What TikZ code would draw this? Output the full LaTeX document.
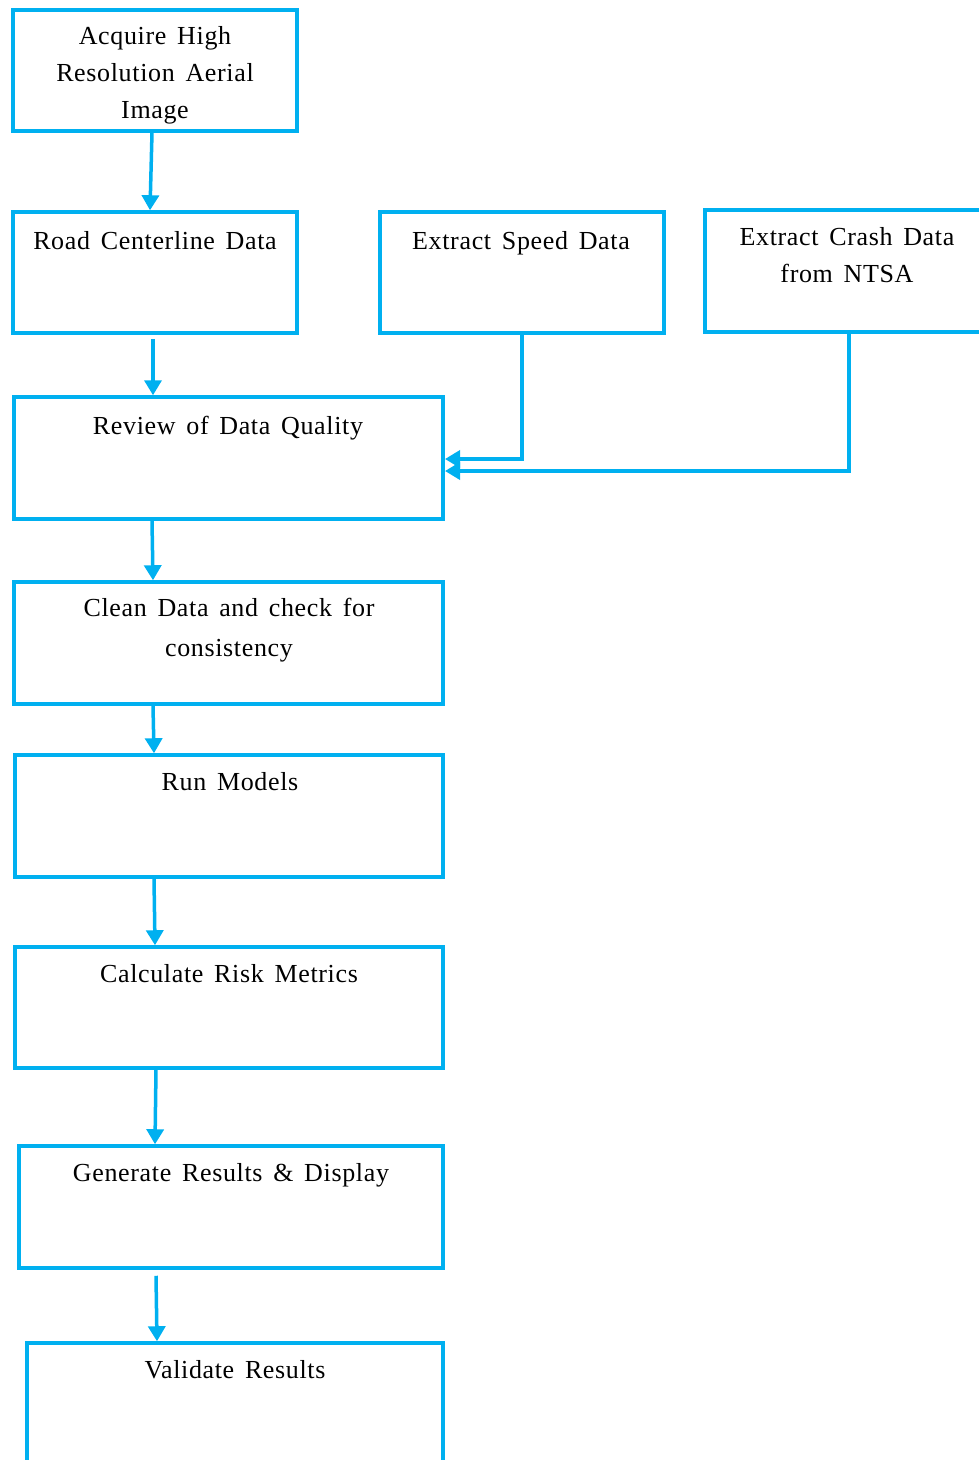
\documentclass[tikz,border=0pt]{standalone}
\usepackage{fontspec}
\setmainfont{Liberation Serif}[LetterSpace=2.5,WordSpace=1.5]
\usetikzlibrary{arrows.meta}
\definecolor{flowblue}{HTML}{00B0F0}
\begin{document}
\begin{tikzpicture}[x=1pt,y=-1pt,
  box/.style={draw=flowblue, line width=3.5pt, rectangle, inner sep=0pt},
  txt/.style={anchor=north, inner sep=0pt, align=center, font=\fontsize{26}{37}\selectfont},
  arr/.style={draw=flowblue, line width=3.5pt, -{Triangle[length=15pt,width=17pt]}}]
\useasboundingbox (0,0) rectangle (979,1460);
\clip (0,0) rectangle (979,1460);
% boxes
\node[box, minimum width=284, minimum height=121] (b1) at (155,70.5) {};
\node[box, minimum width=284, minimum height=121] (b2) at (155,272.5) {};
\node[box, minimum width=284, minimum height=121] (b3) at (522,272.5) {};
\node[box, minimum width=284, minimum height=122] (b4) at (847,271) {};
\node[box, minimum width=429, minimum height=122] (b5) at (228.5,458) {};
\node[box, minimum width=429, minimum height=122] (b6) at (228.5,643) {};
\node[box, minimum width=428, minimum height=122] (b7) at (229,816) {};
\node[box, minimum width=428, minimum height=121] (b8) at (229,1007.5) {};
\node[box, minimum width=424, minimum height=122] (b9) at (231,1207) {};
\node[box, minimum width=416, minimum height=122] (b10) at (235,1404) {};
% texts
\node[txt] (t1) at (155,26) {Acquire High\\Resolution Aerial\\Image};
\node[txt] (t2) at (155,231) {Road Centerline Data};
\node[txt] (t3) at (521,231) {Extract Speed Data};
\node[txt] (t4) at (847,227) {Extract Crash Data\\from NTSA};
\node[txt] (t5) at (228,416) {Review of Data Quality};
\node[txt] (t6) at (229,598) {Clean Data and check for\\[3pt]consistency};
\node[txt] (t7) at (230,772) {Run Models};
\node[txt] (t8) at (229,964) {Calculate Risk Metrics};
\node[txt] (t9) at (231,1163) {Generate Results \& Display};
\node[txt] (t10) at (235,1360) {Validate Results};
% connectors
\coordinate (in1) at (445,459);
\coordinate (in2) at (445,471);
\draw[arr] ([xshift=-3pt]b1.south) -- ([xshift=-5pt]b2.north);
\draw[arr] ([xshift=-2pt,yshift=-4pt]b2.south) -- ([xshift=-75.5pt]b5.north);
\draw[arr] (b3.south) |- (in1);
\draw[arr] ([xshift=2pt]b4.south) |- (in2);
\draw[arr] ([xshift=-76.5pt]b5.south) -- ([xshift=-75.5pt]b6.north);
\draw[arr] ([xshift=-75.5pt]b6.south) -- ([xshift=-75pt]b7.north);
\draw[arr] ([xshift=-75pt]b7.south) -- ([xshift=-74pt]b8.north);
\draw[arr] ([xshift=-73pt]b8.south) -- ([xshift=-76pt]b9.north);
\draw[arr] ([xshift=-75pt,yshift=-6pt]b9.south) -- ([xshift=-78pt]b10.north);
\end{tikzpicture}
\end{document}
